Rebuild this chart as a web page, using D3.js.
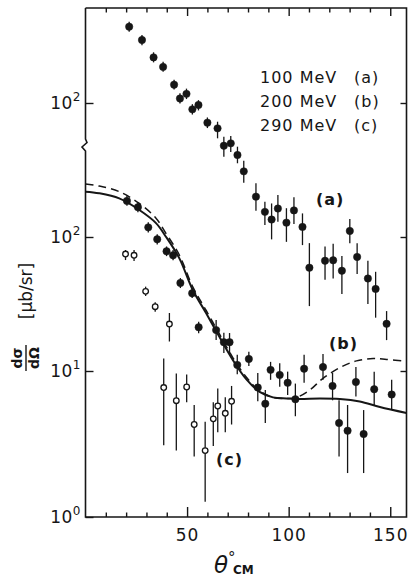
<!DOCTYPE html>
<html>
<head>
<meta charset="utf-8">
<script src="https://cdn.jsdelivr.net/npm/d3@7"></script>
<style>
  html, body { margin: 0; padding: 0; background: #fff; }
  svg { display: block; font-family: "DejaVu Sans", sans-serif; }
</style>
</head>
<body>
<script>
// 100 MeV (a) -- values read on the upper (shifted) scale
const angA = [21.5, 27.8, 33.5, 38.2, 43.6, 46.5, 49.7, 52.6, 55.6, 60.0, 65.0, 68.1, 71.5, 74.8, 77.9, 83.9,
  88.3, 91.6, 94.7, 98.9, 102.6, 106.8, 110.2, 117.9, 121.9, 126.2, 130.1, 133.7, 139.0, 142.8, 148.2];
const valA = [371, 295, 219, 186, 137, 108, 117, 89.7, 96.6, 71.3, 64.7, 48, 50, 40.9, 30.9, 20,
  15.4, 13.5, 16.3, 12.8, 15.8, 11.9, 5.9, 6.65, 6.7, 5.6, 11.1, 7.1, 4.9, 4.1, 2.25];
const loA = [340, 270, 201, 171, 126, 99, 107, 82, 88, 65, 54.5, 39.7, 43, 35.5, 25.4, 15.7,
  12.3, 9.6, 13.0, 9.2, 12.5, 8.7, 3.05, 4.8, 4.9, 3.76, 9.0, 5.3, 3.16, 2.5, 1.7];
const hiA = [404, 322, 239, 203, 149, 118, 128, 98, 105, 78, 72.5, 56, 56.7, 47.2, 37.1, 25.2,
  18.3, 17.8, 20.6, 16.4, 19.8, 15.0, 9.0, 8.5, 8.9, 7.2, 13.6, 9.0, 6.65, 5.5, 2.8];

// 200 MeV (b)
const angB = [20.4, 25.8, 30.9, 35.3, 39.9, 43.1, 46.7, 52.5, 55.7, 64.3, 68.1, 70.9, 74.7, 80.4, 84.8,
  88.5, 91.1, 95.6, 99.5, 103.3, 107.6, 116.9, 121.6, 124.8, 129.0, 133.1, 136.9, 142.1, 150.7];
const valB = [186, 167, 118, 96.1, 78.2, 73, 45.4, 38, 21.2, 20.2, 16.4, 16.4, 11.1, 12.3, 7.7,
  5.97, 10.2, 9.4, 8.3, 6.4, 10.4, 10.7, 7.9, 4.4, 3.9, 8.4, 3.7, 7.5, 6.9];
const loB = [171, 153, 108, 88, 72, 67, 41.6, 35.1, 19.1, 17, 13.6, 13.6, 9.5, 10.9, 6.2,
  4.4, 8.7, 7.8, 6.85, 4.9, 8.3, 8.7, 6.3, 2.6, 2.0, 6.7, 2.0, 5.75, 5.4];
const hiB = [203, 182, 129, 105, 85, 80, 49.4, 41.6, 23.3, 24, 19.3, 19.2, 13.2, 13.9, 9.7,
  7.4, 11.7, 11.4, 9.9, 8.2, 13.2, 13.4, 9.7, 6.3, 5.85, 10.7, 5.4, 9.9, 8.7];

// 290 MeV (c)
const angC = [19.7, 23.9, 29.6, 34.3, 38.5, 41.3, 44.7, 49.8, 53.5, 58.9, 62.9, 65.1, 68.8, 71.9];
const valC = [74.6, 73, 39.3, 30.2, 7.7, 22.4, 6.26, 7.77, 4.3, 2.85, 4.7, 5.76, 5.13, 6.2];
const loC = [67.3, 66.2, 36.3, 27.7, 3.1, 16.6, 2.85, 6.1, 2.6, 1.27, 3.06, 3.8, 3.8, 4.3];
const hiC = [80, 80, 42.6, 32.6, 12.4, 27.1, 9.6, 9.46, 5.85, 4.5, 6.1, 7.6, 6.6, 7.9];

// theory curves
const solidAng = [0, 6.7, 16.6, 26.5, 34.7, 39.6, 46.2, 52.8, 59.4, 65.9, 72.5, 79.1, 85.7, 92.3, 98.9,
  105.4, 115.3, 125.2, 135, 144.9, 158];
const solidVal = [218, 212, 194, 159, 127, 100.5, 69.3, 40.2, 27, 18, 12.1, 8.8, 7.2, 6.6, 6.48,
  6.43, 6.48, 6.43, 6.18, 5.67, 5.16];
const dashAng = [0, 6.7, 16.6, 26.5, 34.7, 39.6, 46.2, 52.8, 59.4, 65.9, 72.5, 79.1, 85.7, 92.3, 98.9,
  103.8, 110.4, 116.9, 125.2, 133.4, 141.6, 148.2, 158];
const dashVal = [249, 240, 218, 178, 138, 106.6, 73.4, 42.4, 28.3, 18.9, 12.6, 9.1, 7.3, 6.6, 6.48,
  6.58, 7.41, 8.91, 10.6, 11.9, 12.4, 12.2, 11.8];

const majorTicks = [50, 100, 150];
const minorTicks = [10, 20, 30, 40, 60, 70, 80, 90, 110, 120, 130, 140];
const legendRows = [["100 MeV", "(a)"], ["200 MeV", "(b)"], ["290 MeV", "(c)"]];

const W = 409, H = 579;
const L = 85.5, R = 406.5, T = 8, B = 517;

const svg = d3.select("body").append("svg")
  .attr("width", W).attr("height", H)
  .attr("xmlns", "http://www.w3.org/2000/svg");

const x = d3.scaleLinear().domain([0, 158]).range([L, R]);
const y = d3.scaleLog().domain([1, 10, 100, 1000]).range([B, 371, 237, 103]);
const yA = d3.scaleLog().domain([0.1, 1, 10, 100]).range([B, 371, 237, 103]);

const ink = "#161616";

// frame with axis break
svg.append("path")
  .attr("d", `M${L},${T}H${R}V${B}H${L}V151L82,147L87,142.5L${L},139V${T}`)
  .attr("fill", "none").attr("stroke", ink).attr("stroke-width", 1.6);

function cleanAxis(g) {
  g.select(".domain").remove();
  g.selectAll("line").attr("stroke", ink).attr("stroke-width", 1.4);
}

svg.append("g").attr("transform", `translate(0,${B})`)
  .call(d3.axisBottom(x).tickValues(minorTicks).tickSizeInner(-4.5).tickFormat(""))
  .call(cleanAxis);
svg.append("g").attr("transform", `translate(0,${B})`)
  .call(d3.axisBottom(x).tickValues(majorTicks).tickSizeInner(-10).tickPadding(12).tickFormat(d3.format("d")))
  .call(cleanAxis)
  .call(g => g.selectAll("text").attr("fill", ink).attr("font-size", 17).attr("letter-spacing", 1)
    .attr("font-family", "DejaVu Sans"));
svg.append("g").attr("transform", `translate(0,${T})`)
  .call(d3.axisTop(x).tickValues(minorTicks).tickSizeInner(-4.5).tickFormat(""))
  .call(cleanAxis);
svg.append("g").attr("transform", `translate(0,${T})`)
  .call(d3.axisTop(x).tickValues(majorTicks).tickSizeInner(-8).tickFormat(""))
  .call(cleanAxis);

function powerLabels(g, exps) {
  g.selectAll("text").each(function(d, i) {
    const t = d3.select(this).text("").attr("fill", ink).attr("font-family", "DejaVu Sans");
    t.append("tspan").attr("font-size", 17).attr("letter-spacing", 0.5).text("10");
    t.append("tspan").attr("font-size", 12).attr("dy", -8).text(exps[i]);
  });
}

svg.append("g").attr("transform", `translate(${L},0)`)
  .call(d3.axisLeft(y).tickValues([1, 10, 100]).tickSizeInner(-8).tickPadding(5))
  .call(cleanAxis)
  .call(g => g.selectAll("text").attr("dy", "0.5em"))
  .call(g => powerLabels(g, ["0", "1", "2"]));
svg.append("g").attr("transform", `translate(${L},0)`)
  .call(d3.axisLeft(yA).tickValues([100]).tickSizeInner(-8).tickPadding(5))
  .call(cleanAxis)
  .call(g => g.selectAll("text").attr("dy", "0.5em"))
  .call(g => powerLabels(g, ["2"]));
svg.append("g").attr("transform", `translate(${R},0)`)
  .call(d3.axisRight(y).tickValues([10, 100, 1000]).tickSizeInner(-6).tickFormat(""))
  .call(cleanAxis);

// theory curves
const solidLine = d3.line().x((d, i) => x(solidAng[i])).y(d => y(d)).curve(d3.curveCatmullRom.alpha(0.5));
const dashLine = d3.line().x((d, i) => x(dashAng[i])).y(d => y(d)).curve(d3.curveCatmullRom.alpha(0.5));
svg.append("path").datum(dashVal).attr("d", dashLine)
  .attr("fill", "none").attr("stroke", ink).attr("stroke-width", 1.5).attr("stroke-dasharray", "8,5");
svg.append("path").datum(solidVal).attr("d", solidLine)
  .attr("fill", "none").attr("stroke", ink).attr("stroke-width", 2);

function series(ang, val, lo, hi, scale, open) {
  const g = svg.append("g");
  g.selectAll("line").data(val).join("line")
    .attr("x1", (d, i) => x(ang[i])).attr("x2", (d, i) => x(ang[i]))
    .attr("y1", (d, i) => scale(lo[i])).attr("y2", (d, i) => scale(hi[i]))
    .attr("stroke", ink).attr("stroke-width", 1.3);
  g.selectAll("circle").data(val).join("circle")
    .attr("cx", (d, i) => x(ang[i])).attr("cy", d => scale(d))
    .attr("r", open ? 2.8 : 3.7)
    .attr("fill", open ? "#fff" : ink)
    .attr("stroke", ink).attr("stroke-width", open ? 1.3 : 0.5);
}
series(angC, valC, loC, hiC, y, true);
series(angB, valB, loB, hiB, y, false);
series(angA, valA, loA, hiA, yA, false);

// legend
const leg = svg.append("g").attr("fill", ink).attr("font-size", 16).attr("letter-spacing", 1);
leg.selectAll("text.e").data(legendRows).join("text").attr("class", "e")
  .attr("x", 260).attr("y", (d, i) => 83 + i * 24).text(d => d[0]);
leg.selectAll("text.l").data(legendRows).join("text").attr("class", "l")
  .attr("x", 354).attr("y", (d, i) => 83 + i * 24).text(d => d[1]);

// curve labels
const tags = svg.append("g").attr("fill", ink).attr("font-size", 16).attr("font-weight", "bold")
  .attr("letter-spacing", 1);
tags.append("text").attr("x", 316).attr("y", 205).text("(a)");
tags.append("text").attr("x", 329).attr("y", 349).text("(b)");
tags.append("text").attr("x", 216).attr("y", 465).text("(c)");

// x title
const xt = svg.append("g").attr("fill", ink);
xt.append("text").attr("x", 214).attr("y", 573).attr("font-size", 23).attr("font-style", "italic").text("θ");
xt.append("text").attr("x", 228).attr("y", 563).attr("font-size", 15).text("°");
xt.append("text").attr("x", 233).attr("y", 574).attr("font-size", 12).attr("font-weight", "bold").text("CM");

// y title
const yt = svg.append("g").attr("fill", ink);
const frac = yt.append("g").attr("transform", "translate(26,358) rotate(-90)");
frac.append("text").attr("text-anchor", "middle").attr("y", -4).attr("font-size", 14).attr("font-weight", "bold").text("dσ");
frac.append("line").attr("x1", -13).attr("x2", 13).attr("stroke", ink).attr("stroke-width", 1.4);
frac.append("text").attr("text-anchor", "middle").attr("y", 13).attr("font-size", 14).attr("font-weight", "bold").text("dΩ");
yt.append("text").attr("transform", "translate(26,291) rotate(-90)")
  .attr("text-anchor", "middle").attr("dy", "0.35em").attr("font-size", 17).text("[μb/sr]");
</script>
</body>
</html>
